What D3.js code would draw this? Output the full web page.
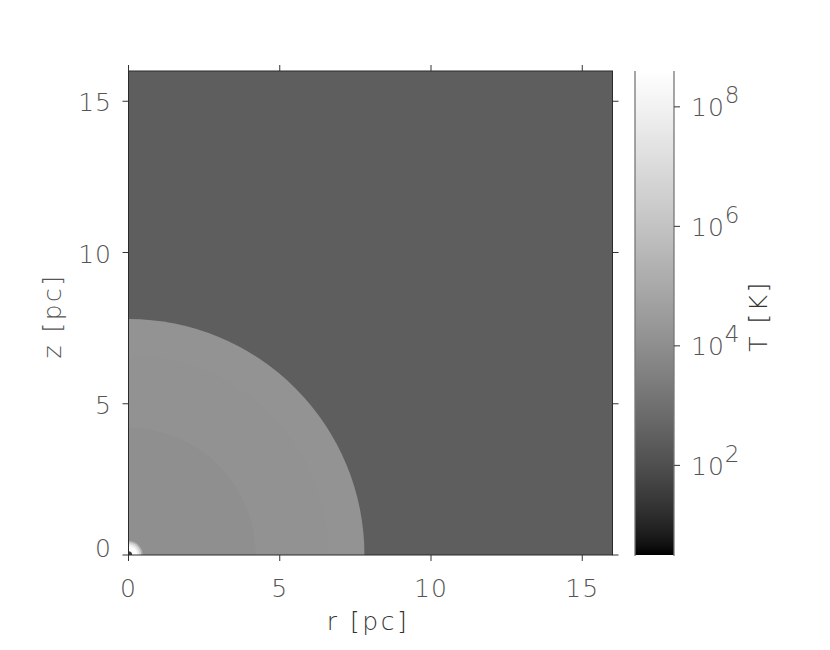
<!DOCTYPE html>
<html>
<head>
<meta charset="utf-8">
<script src="https://cdn.jsdelivr.net/npm/d3@7"></script>
<style>
html,body{margin:0;padding:0;background:#fff;}
svg{display:block;}
text{font-family:"DejaVu Sans","Liberation Sans",sans-serif;font-weight:200;}
</style>
</head>
<body>
<script>
// ---- data ----
// radial temperature profile (spherical shells, radius in pc, log10 T in K)
const shellOuterRadius = [0.47, 0.42, 0.36, 0.30, 0.12];
const shellLogT        = [5.2,  6.6,  7.7,  8.5,  1.5];
const sphereOuterRadius = [7.8, 6.6, 4.2];
const sphereLogT        = [4.17, 4.14, 4.04];
const ambientLogT = 2.45;
const xTicks = [0, 5, 10, 15];
const yTicks = [0, 5, 10, 15];
const cbarTicks = [2, 4, 6, 8];
const axisDomain = [0, 16];
const cbarDomain = [0.5, 8.6];
const xTitle = "r [pc]", yTitle = "z [pc]", cbarTitle = "T [K]";

// ---- layout ----
const W = 830, H = 650;
const L = 128.5, R = 612.5, T = 71, B = 555;
const cbL = 635, cbR = 674;

const svg = d3.select("body").append("svg").attr("width", W).attr("height", H);
svg.append("rect").attr("width", W).attr("height", H).attr("fill", "#fff");

const x = d3.scaleLinear().domain(axisDomain).range([L, R]);
const y = d3.scaleLinear().domain(axisDomain).range([B, T]);
const cf = d3.scaleLinear().domain(cbarDomain).range([0, 1]).clamp(true);
const grayOf = lt => { const v = Math.round(255 * Math.pow(cf(lt), 0.7)); return d3.rgb(v, v, v).formatHex(); };

// clip
svg.append("clipPath").attr("id", "plotclip").append("rect")
  .attr("x", L).attr("y", T).attr("width", R - L).attr("height", B - T);

const g = svg.append("g").attr("clip-path", "url(#plotclip)");
g.append("rect").attr("x", L).attr("y", T).attr("width", R - L).attr("height", B - T)
  .attr("fill", grayOf(ambientLogT));

const shells = sphereOuterRadius.map((r, i) => ({r, lt: sphereLogT[i]}))
  .concat(shellOuterRadius.map((r, i) => ({r, lt: shellLogT[i]})))
  .sort((a, b) => b.r - a.r);

g.selectAll("circle.shell").data(shells).join("circle")
  .attr("class", "shell")
  .attr("cx", x(0)).attr("cy", y(0))
  .attr("r", d => x(d.r) - x(0))
  .attr("fill", d => grayOf(d.lt));

// frame
svg.append("rect").attr("x", L).attr("y", T).attr("width", R - L).attr("height", B - T)
  .attr("fill", "none").attr("stroke", "#2a2a2a").attr("stroke-width", 1);

// ticks (outward on all four sides)
const tk = 6;
const tickG = svg.append("g").attr("stroke", "#333").attr("stroke-width", 1);
xTicks.forEach(v => {
  tickG.append("line").attr("x1", x(v)).attr("x2", x(v)).attr("y1", B).attr("y2", B + tk);
  tickG.append("line").attr("x1", x(v)).attr("x2", x(v)).attr("y1", T).attr("y2", T - tk);
});
yTicks.forEach(v => {
  tickG.append("line").attr("y1", y(v)).attr("y2", y(v)).attr("x1", L).attr("x2", L - tk);
  tickG.append("line").attr("y1", y(v)).attr("y2", y(v)).attr("x1", R).attr("x2", R + tk);
});

const fs = 25;
svg.append("g").selectAll("text").data(xTicks).join("text")
  .attr("x", d => x(d)).attr("y", 597)
  .attr("text-anchor", "middle").attr("font-size", fs).attr("fill", "#555")
  .attr("letter-spacing", 1)
  .text(d => d);
svg.append("g").selectAll("text").data(yTicks).join("text")
  .attr("x", 112).attr("y", d => y(d) + 10 - (d === 0 ? 8 : 0))
  .attr("text-anchor", "end").attr("font-size", fs).attr("fill", "#555")
  .attr("letter-spacing", 1)
  .text(d => d);

svg.append("text").attr("x", 368).attr("y", 630).attr("text-anchor", "middle")
  .attr("font-size", fs).attr("fill", "#333").attr("letter-spacing", 2.5).text(xTitle);
svg.append("text").attr("transform", `translate(61,${(T + B) / 2 + 3}) rotate(-90)`)
  .attr("text-anchor", "middle").attr("font-size", fs).attr("fill", "#555")
  .attr("letter-spacing", 2.5).text(yTitle);

// colorbar
const cy = d3.scaleLinear().domain(cbarDomain).range([B, T]);
const defs = svg.append("defs");
const grad = defs.append("linearGradient").attr("id", "cbgrad")
  .attr("x1", 0).attr("y1", 1).attr("x2", 0).attr("y2", 0);
const stops = d3.range(0, 1.0001, 0.02);
grad.selectAll("stop").data(stops).join("stop")
  .attr("offset", d => d)
  .attr("stop-color", d => grayOf(cbarDomain[0] + d * (cbarDomain[1] - cbarDomain[0])));
svg.append("rect").attr("x", cbL).attr("y", T).attr("width", cbR - cbL).attr("height", B - T)
  .attr("fill", "url(#cbgrad)");
svg.append("line").attr("x1", cbL).attr("x2", cbL).attr("y1", T).attr("y2", B + 1)
  .attr("stroke", "#777").attr("stroke-width", 1.3);
svg.append("line").attr("x1", cbR).attr("x2", cbR).attr("y1", T).attr("y2", B + 1)
  .attr("stroke", "#777").attr("stroke-width", 1.3);
cbarTicks.forEach(v => {
  svg.append("line").attr("x1", cbR).attr("x2", cbR + 6).attr("y1", cy(v)).attr("y2", cy(v))
    .attr("stroke", "#333").attr("stroke-width", 1);
  const t = svg.append("text").attr("x", 691).attr("y", cy(v) + 9.5)
    .attr("font-size", fs).attr("fill", "#555").attr("letter-spacing", 1);
  t.append("tspan").text("10");
  t.append("tspan").attr("dy", -13).attr("font-size", fs - 2).text(v);
});
svg.append("text").attr("transform", `translate(767,${(T + B) / 2 + 3}) rotate(-90)`)
  .attr("text-anchor", "middle").attr("font-size", fs).attr("fill", "#333")
  .attr("letter-spacing", 2.5).text(cbarTitle);
</script>
</body>
</html>
